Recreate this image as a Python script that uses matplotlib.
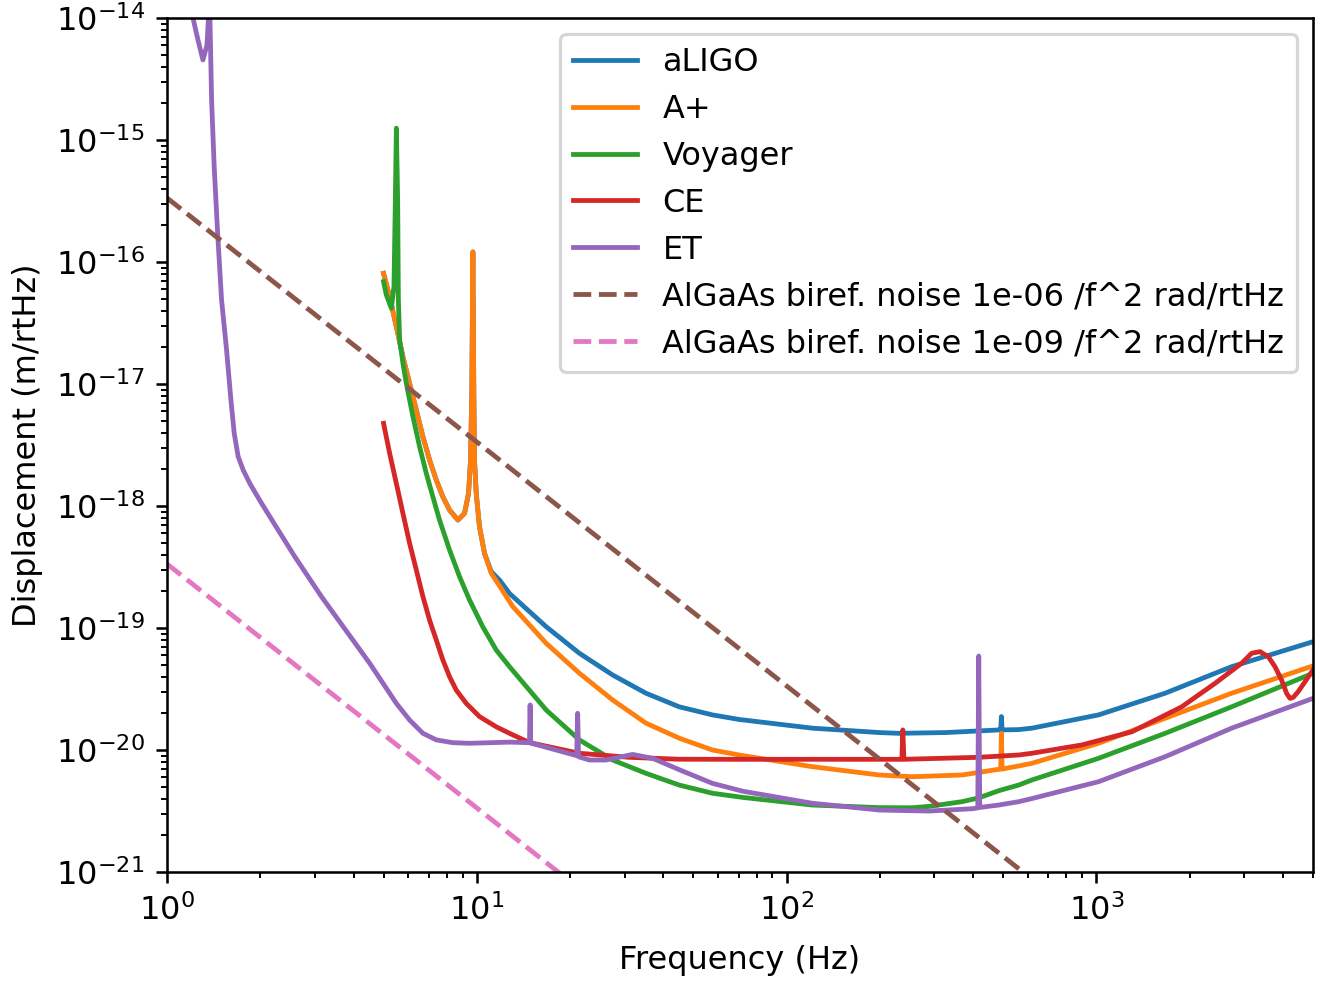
import numpy as np
import matplotlib
matplotlib.use("Agg")
import matplotlib.pyplot as plt

# Noise curves (frequency in Hz, displacement in m/rtHz)
aligo_f = [5.0, 5.232, 5.499, 5.774, 6.069, 6.378, 6.699, 7.04, 7.40, 7.77, 8.166, 8.686, 9.129,
           9.404, 9.544, 9.636, 9.71, 9.78, 9.83, 9.956, 10.2, 10.59, 11.13, 11.84, 12.75, 16.74,
           21.43, 27.44, 35.15, 45.0, 57.6, 70.2, 121, 199, 230, 326, 484, 491, 493.4, 496, 561, 619,
           1016, 1666, 2732, 5000]
aligo_v = [8.07e-17, 5.20e-17, 2.95e-17, 1.67e-17, 1.01e-17, 6.12e-18, 3.70e-18, 2.38e-18, 1.63e-18,
           1.19e-18, 9.27e-19, 7.67e-19, 8.71e-19, 1.27e-18, 2.38e-18, 8.39e-18, 1.21e-16, 8.39e-18,
           2.38e-18, 1.27e-18, 6.76e-19, 4.09e-19, 2.90e-19, 2.47e-19, 1.92e-19, 1.025e-19, 6.21e-20,
           4.12e-20, 2.92e-20, 2.26e-20, 1.94e-20, 1.78e-20, 1.51e-20, 1.39e-20, 1.37e-20, 1.39e-20,
           1.46e-20, 1.46e-20, 1.88e-20, 1.46e-20, 1.47e-20, 1.51e-20, 1.94e-20, 2.92e-20, 4.82e-20,
           7.72e-20]

aplus_f = [5.0, 5.232, 5.499, 5.774, 6.069, 6.378, 6.699, 7.04, 7.40, 7.77, 8.166, 8.686, 9.129,
           9.404, 9.544, 9.636, 9.71, 9.78, 9.83, 9.956, 10.2, 10.59, 11.13, 11.84, 13.06, 16.74,
           21.43, 27.44, 35.15, 45.0, 57.6, 70.2, 121, 199, 230, 254, 368, 484, 491, 493.4, 496, 561,
           619, 1016, 1666, 2732, 5000]
aplus_v = [8.07e-17, 5.20e-17, 2.95e-17, 1.67e-17, 1.01e-17, 6.12e-18, 3.70e-18, 2.38e-18, 1.63e-18,
           1.19e-18, 9.27e-19, 7.67e-19, 8.71e-19, 1.27e-18, 2.38e-18, 8.39e-18, 1.21e-16, 8.39e-18,
           2.38e-18, 1.27e-18, 6.76e-19, 4.09e-19, 2.81e-19, 2.21e-19, 1.50e-19, 7.50e-20, 4.26e-20,
           2.57e-20, 1.66e-20, 1.25e-20, 1.0e-20, 9.1e-21, 7.3e-21, 6.24e-21, 6.12e-21, 6.04e-21,
           6.24e-21, 6.95e-21, 6.97e-21, 1.37e-20, 6.98e-21, 7.4e-21, 7.78e-21, 1.135e-20, 1.82e-20,
           2.92e-20, 4.89e-20]

voyager_f = [5.0, 5.105, 5.298, 5.402, 5.458, 5.499, 5.553, 5.582, 5.635, 5.774, 5.922, 6.22, 6.537,
             6.87, 7.214, 7.58, 8.166, 8.798, 9.47, 10.45, 11.55, 12.75, 16.74, 21.43, 27.44, 35.15,
             45.0, 57.6, 72, 121, 199, 254, 288, 368, 417, 484, 561, 619, 1016, 1666, 2732, 5000]
voyager_v = [6.90e-17, 5.37e-17, 4.17e-17, 6.28e-17, 3.22e-16, 1.25e-15, 3.22e-16, 4.89e-17, 2.3e-17,
             1.48e-17, 1.01e-17, 5.40e-18, 3.06e-18, 1.85e-18, 1.19e-18, 7.67e-19, 4.36e-19, 2.63e-19,
             1.70e-19, 1.025e-19, 6.6e-20, 4.82e-20, 2.13e-20, 1.21e-20, 8.28e-21, 6.44e-21, 5.16e-21,
             4.42e-21, 4.09e-21, 3.54e-21, 3.37e-21, 3.36e-21, 3.45e-21, 3.77e-21, 4.05e-21, 4.64e-21,
             5.16e-21, 5.68e-21, 8.55e-21, 1.37e-20, 2.26e-20, 4.26e-20]

ce_f = [5.0, 5.232, 5.499, 5.774, 6.069, 6.378, 6.699, 7.04, 7.40, 7.77, 8.166, 8.582, 9.245, 10.2,
        11.55, 12.75, 14.79, 21.43, 31.05, 45.0, 70.2, 121, 235.5, 237.2, 239, 417, 561, 619, 897,
        1301, 1885, 2415, 2942, 3169, 3373, 3586, 3769, 3959, 4108, 4213, 4317, 4480, 5000]
ce_v = [4.76e-18, 2.70e-18, 1.53e-18, 8.71e-19, 4.94e-19, 2.99e-19, 1.81e-19, 1.16e-19, 7.97e-20,
        5.47e-20, 3.99e-20, 3.10e-20, 2.41e-20, 1.88e-20, 1.55e-20, 1.37e-20, 1.15e-20, 9.40e-21,
        8.71e-21, 8.4e-21, 8.39e-21, 8.39e-21, 8.39e-21, 1.46e-20, 8.39e-21, 8.71e-21, 9.10e-21,
        9.40e-21, 1.10e-20, 1.41e-20, 2.26e-20, 3.52e-20, 5.14e-20, 6.21e-20, 6.40e-20, 5.82e-20,
        4.82e-20, 3.75e-20, 2.92e-20, 2.65e-20, 2.70e-20, 3.01e-20, 4.53e-20]

et_f = [1.19, 1.213, 1.259, 1.306, 1.346, 1.361, 1.368, 1.376, 1.393, 1.420, 1.457, 1.500, 1.557,
        1.608, 1.648, 1.697, 1.762, 1.851, 2.020, 2.284, 2.586, 3.151, 4.51, 4.98, 5.499, 6.069,
        6.699, 7.40, 8.369, 9.47, 12.75, 14.79, 14.86, 14.93, 20.64, 21.0, 21.16, 21.3, 23.08, 26.12,
        31.82, 36.92, 45.0, 57.6, 72, 121, 199, 288, 397, 414, 416.9, 420, 484, 561, 619, 1016,
        1666, 2732, 5000]
et_v = [2.0e-14, 1.0e-14, 6.6e-15, 4.53e-15, 6.0e-15, 1.0e-14, 5.0e-14, 1.0e-14, 2.13e-15, 6.04e-16,
        1.72e-16, 4.89e-17, 1.90e-17, 7.40e-18, 3.94e-18, 2.54e-18, 1.97e-18, 1.53e-18, 1.05e-18,
        6.36e-19, 3.84e-19, 1.81e-19, 5.14e-20, 3.52e-20, 2.41e-20, 1.76e-20, 1.37e-20, 1.21e-20,
        1.148e-20, 1.135e-20, 1.16e-20, 1.148e-20, 2.34e-20, 1.14e-20, 9.10e-21, 9.0e-21, 2.0e-20,
        8.8e-21, 8.28e-21, 8.28e-21, 9.2e-21, 8.55e-21, 6.9e-21, 5.33e-21, 4.6e-21, 3.66e-21,
        3.22e-21, 3.16e-21, 3.30e-21, 3.35e-21, 5.89e-20, 3.38e-21, 3.54e-21, 3.77e-21, 4.0e-21,
        5.50e-21, 8.81e-21, 1.51e-20, 2.65e-20]

# AlGaAs birefringence noise lines (1/f^2)
bref_f = [1.0, 5000.0]
bref_1e6_v = [3.35e-16, 1.34e-23]
bref_1e9_v = [3.35e-19, 1.34e-26]

fig = plt.figure(figsize=(1334 / 230, 982 / 230), dpi=230)
ax = fig.add_axes([167 / 1334, 110 / 982, 1146 / 1334, 854 / 982])

ax.loglog(aligo_f, aligo_v, label="aLIGO")
ax.loglog(aplus_f, aplus_v, label="A+")
ax.loglog(voyager_f, voyager_v, label="Voyager")
ax.loglog(ce_f, ce_v, label="CE")
ax.loglog(et_f, et_v, label="ET")
ax.loglog(bref_f, bref_1e6_v, "--", label="AlGaAs biref. noise 1e-06 /f^2 rad/rtHz")
ax.loglog(bref_f, bref_1e9_v, "--", label="AlGaAs biref. noise 1e-09 /f^2 rad/rtHz")

ax.set_xlim(1, 5000)
ax.set_ylim(1e-21, 1e-14)
ax.set_xlabel("Frequency (Hz)", labelpad=5.5)
ax.set_ylabel("Displacement (m/rtHz)")
ax.legend(loc="upper right")

fig.savefig("out.png", dpi=230)
